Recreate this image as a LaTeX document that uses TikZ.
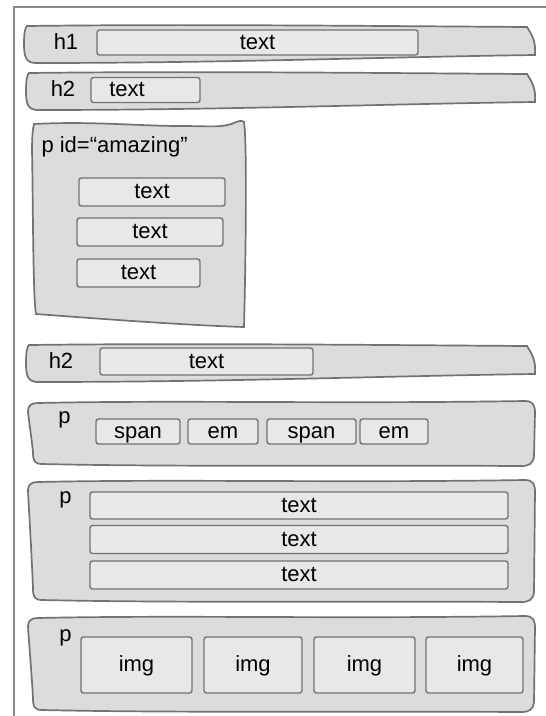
\documentclass[tikz,border=0pt]{standalone}
\usepackage{fontspec}
\setmainfont{Liberation Sans}
\usetikzlibrary{positioning}

\definecolor{framegray}{HTML}{8A8A8A}
\definecolor{linegray}{HTML}{727272}
\definecolor{boxgray}{HTML}{DCDCDE}
\definecolor{taggray}{HTML}{E8E8EA}

\begin{document}
\begin{tikzpicture}[x=1pt, y=-1pt, font=\fontsize{22}{26}\selectfont,
  every node/.style={text height=15pt, text depth=2pt},
  frame/.style={draw=framegray, line width=2pt},
  outer/.style={draw=linegray, fill=boxgray, line width=1.7pt},
  tag/.style={draw=linegray, fill=taggray, line width=1.4pt, inner sep=0pt,
    minimum height=25pt, rounded corners=2.5pt}]
\useasboundingbox (0,0) rectangle (546,716);
\draw[frame] (560,7) -| (14,730);

% heading bars
\foreach \lx/\ty/\rx/\by in {24/25/535/63, 26/72/535/110, 26/344/535/382}
  \draw[outer] (\lx+3,\ty+1) .. controls (\lx+160,\ty-1) and (\rx-160,\ty+1) .. (\rx-8,\ty+2)
    .. controls (\rx-3,\ty+10) and (\rx+1,\ty+16) .. (\rx,\by-8)
    .. controls (\rx-150,\by-6) and (\lx+200,\by) .. (\lx+12,\by)
    .. controls (\lx+2,\by) and (\lx,\by-6) .. (\lx,{(\ty+\by)/2})
    .. controls (\lx,\ty+8) and (\lx+1,\ty+3) .. cycle;

% paragraph boxes
\foreach \lx/\ty/\rx/\by in {28/401/535/466, 28/480/535/602, 28/616/535/712}
  \draw[outer] (\lx+10,\ty+2) .. controls (\lx+150,\ty-1) and (\rx-200,\ty+3) .. (\rx-10,\ty)
    .. controls (\rx-2,\ty) and (\rx,\ty+4) .. (\rx,\ty+12) -- (\rx-1,\by-10)
    .. controls (\rx-2,\by-2) and (\rx-6,\by) .. (\rx-14,\by)
    .. controls (\rx-200,\by-1) and (\lx+150,\by+1) .. (\lx+14,\by-2)
    .. controls (\lx+6,\by-2) and (\lx+5,\by-6) .. (\lx+5,\by-14)
    .. controls (\lx+3,{(\ty+\by)/2}) and (\lx,\ty+14) .. (\lx,\ty+10)
    .. controls (\lx,\ty+4) and (\lx+4,\ty+2) .. cycle;

\draw[outer] (34,124) .. controls (90,121) and (140,126) .. (180,126)
  .. controls (210,126) and (222,128) .. (234,123) .. controls (238,121) and (242,120) .. (244,122)
  .. controls (247,140) and (246,250) .. (244,327)
  .. controls (180,325) and (90,318) .. (36,314)
  .. controls (33,300) and (33,200) .. (32,150)
  .. controls (32,135) and (33,128) .. cycle;

\node (h1) at (66,42.5) {h1};
\node[tag, minimum width=321pt] (h1text) at (257.5,42.5) {text};

\node (h2) at (63,90) {h2};
\node[tag, minimum width=109pt] (h2box) at (145.5,90) {};
\node (h2text) at (127,90) {text};

\node[anchor=west] (amazing) at (38,146) {p id=“amazing”};
\node[tag, minimum width=146pt, minimum height=28pt] (amz1) at (152,192) {text};
\node[tag, minimum width=146pt, minimum height=28pt] (amz2) at (150,232) {text};
\node[tag, minimum width=123pt, minimum height=28pt] (amz3) at (138.5,273) {text};

\node (h2b) at (61,362) {h2};
\node[tag, minimum width=213pt, minimum height=27pt] (h2btext) at (206.5,361.5) {text};

\node (pspan) at (64.5,417) {p};
\node[tag, minimum width=84pt] (span1) at (138,431.5) {span};
\node[tag, minimum width=70pt] (em1) at (223,431.5) {em};
\node[tag, minimum width=89pt] (span2) at (311.5,431.5) {span};
\node[tag, minimum width=68pt] (em2) at (394,431.5) {em};

\node (ptext) at (65.5,497) {p};
\node[tag, minimum width=418pt, minimum height=27pt] (line1) at (299,505.5) {text};
\node[tag, minimum width=418pt, minimum height=28pt] (line2) at (299,539.5) {text};
\node[tag, minimum width=418pt, minimum height=28pt] (line3) at (299,575) {text};

\node (pimg) at (65.5,635) {p};
\node[tag, minimum width=111pt, minimum height=56pt] (img1) at (136.5,665) {img};
\node[tag, minimum width=98pt, minimum height=56pt] (img2) at (253,665) {img};
\node[tag, minimum width=101pt, minimum height=56pt] (img3) at (364.5,665) {img};
\node[tag, minimum width=97pt, minimum height=56pt] (img4) at (474.5,665) {img};
\end{tikzpicture}
\end{document}
